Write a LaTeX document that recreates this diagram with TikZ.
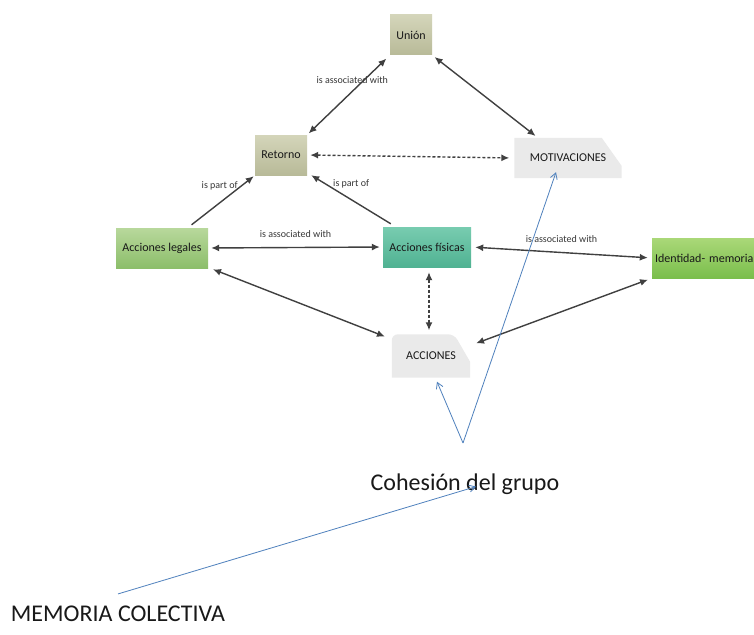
\documentclass[tikz,border=0pt]{standalone}
\usepackage{fontspec}
\setmainfont{Carlito}
\usetikzlibrary{arrows.meta,calc,backgrounds}
\definecolor{khakiT}{RGB}{212,213,186}
\definecolor{khakiB}{RGB}{184,186,152}
\definecolor{legT}{RGB}{184,216,156}
\definecolor{legB}{RGB}{140,190,106}
\definecolor{fisT}{RGB}{120,204,176}
\definecolor{fisB}{RGB}{80,178,146}
\definecolor{idT}{RGB}{170,216,120}
\definecolor{idB}{RGB}{122,190,76}
\definecolor{grayfill}{RGB}{234,234,234}
\definecolor{offblue}{RGB}{79,129,189}
\definecolor{labgray}{RGB}{55,55,55}
\tikzset{
  cbox/.style={minimum height=40pt, inner sep=2pt, font=\fontsize{12}{14}\selectfont, text=black!90},
  kbox/.style={cbox, top color=khakiT, bottom color=khakiB},
  legbox/.style={cbox, top color=legT, bottom color=legB},
  fisbox/.style={cbox, top color=fisT, bottom color=fisB},
  idbox/.style={cbox, top color=idT, bottom color=idB, text width=110pt, align=left},
  graybox/.style={cbox},
  arr/.style={draw=black!75, line width=1.4pt, {Latex[length=8pt,width=7pt]}-{Latex[length=8pt,width=7pt]}},
  arrone/.style={draw=black!75, line width=1.4pt, -{Latex[length=8pt,width=7pt]}},
  darr/.style={arr, densely dashed},
  elab/.style={font=\fontsize{10}{12}\selectfont, text=labgray, inner sep=1pt},
  bluearr/.style={draw=offblue, line width=0.8pt, -{Straight Barb[length=6pt,width=7pt]}},
  bigtext/.style={font=\fontsize{24}{28}\selectfont, text=black!90, inner sep=0pt}
}
\begin{document}
\begin{tikzpicture}[x=1pt,y=-1pt]
\useasboundingbox (0,0) rectangle (754,634);

% nodes
\node[kbox, minimum width=42pt] (union) at (411,35) {Unión};
\node[kbox, minimum width=52pt] (ret) at (281,155) {Retorno};
\node[graybox, minimum width=107pt] (mot) at (568,158) {MOTIVACIONES};
\node[legbox, minimum width=92pt] (leg) at (162,248) {Acciones legales};
\node[fisbox, minimum width=88pt] (fis) at (427,247) {Acciones físicas};
\node[idbox, minimum width=116pt] (ide) at (710,258) {Identidad- memoria};
\node[graybox, minimum width=78pt, minimum height=43pt] (acc) at (431,356) {ACCIONES};
\node[bigtext] (coh) at (465,484) {Cohesión del grupo};
\node[bigtext] (mem) at (118,614) {MEMORIA COLECTIVA};
\coordinate (apex) at (463,443);
\coordinate (fs) at ($(fis.south)+(2,0)$);

% gray slanted shapes
\begin{scope}[on background layer]
\fill[white] (0,0) rectangle (754,634);
\fill[grayfill] (mot.north west) -- ($(mot.north east)+(-20,0)$) -- ($(mot.east)+(0,8)$) -- (mot.south east) -- (mot.south west) -- cycle;
\fill[grayfill, rounded corners=6pt] (acc.south west) -- (acc.north west) -- ($(acc.north east)+(-16,0)$) [sharp corners] -- ($(acc.east)+(0,6)$) -- (acc.south east) -- cycle;
\end{scope}

% connectors
\draw[arr, shorten <=2pt, shorten >=2pt] ($(union.south west)+(-2,2)$) -- node[elab, pos=0.3, left=-26pt] {is associated with} (ret.north east);
\draw[arr, shorten <=3pt, shorten >=3pt] (union.south east) -- ($(mot.north west)!0.22!(mot.north east)$);
\draw[darr, shorten <=3pt, shorten >=5pt] (ret.east) -- (mot.west);
\draw[arrone] ($(leg.north west)!0.82!(leg.north east)+(0,-3)$) -- node[elab, pos=0.8, left=2pt] {is part of} ($(ret.south west)+(-1,1)$);
\draw[arrone] ($(fis.north west)+(8,-3)$) -- node[elab, pos=0.82, right=6pt] {is part of} ($(ret.south east)+(4,0)$);
\draw[arr, shorten <=3pt, shorten >=3pt] (leg.east) -- node[elab, above=8pt] {is associated with} (fis.west);
\draw[arr, shorten <=4pt, shorten >=4pt] (fis.east) -- node[elab, above=8pt, pos=0.5] {is associated with} (ide.west);
\draw[darr, shorten <=5pt, shorten >=4pt] (fs) -- (fs |- acc.north);
\draw[arr, shorten <=3pt, shorten >=2pt] ($(leg.south east)+(2,0)$) -- ($(acc.north west)+(-5,3)$);
\draw[arr, shorten <=4pt, shorten >=2pt] (ide.south west) -- ($(acc.east)+(4,-12)$);

% blue arrows
\draw[bluearr] (apex) -- ($(acc.south)+(6,4)$);
\draw[bluearr] (apex) -- ($(mot.south)+(-12,-6)$);
\draw[bluearr] ($(mem.north)+(0,-12)$) -- ($(coh.south)+(11,-8)$);
\end{tikzpicture}
\end{document}
